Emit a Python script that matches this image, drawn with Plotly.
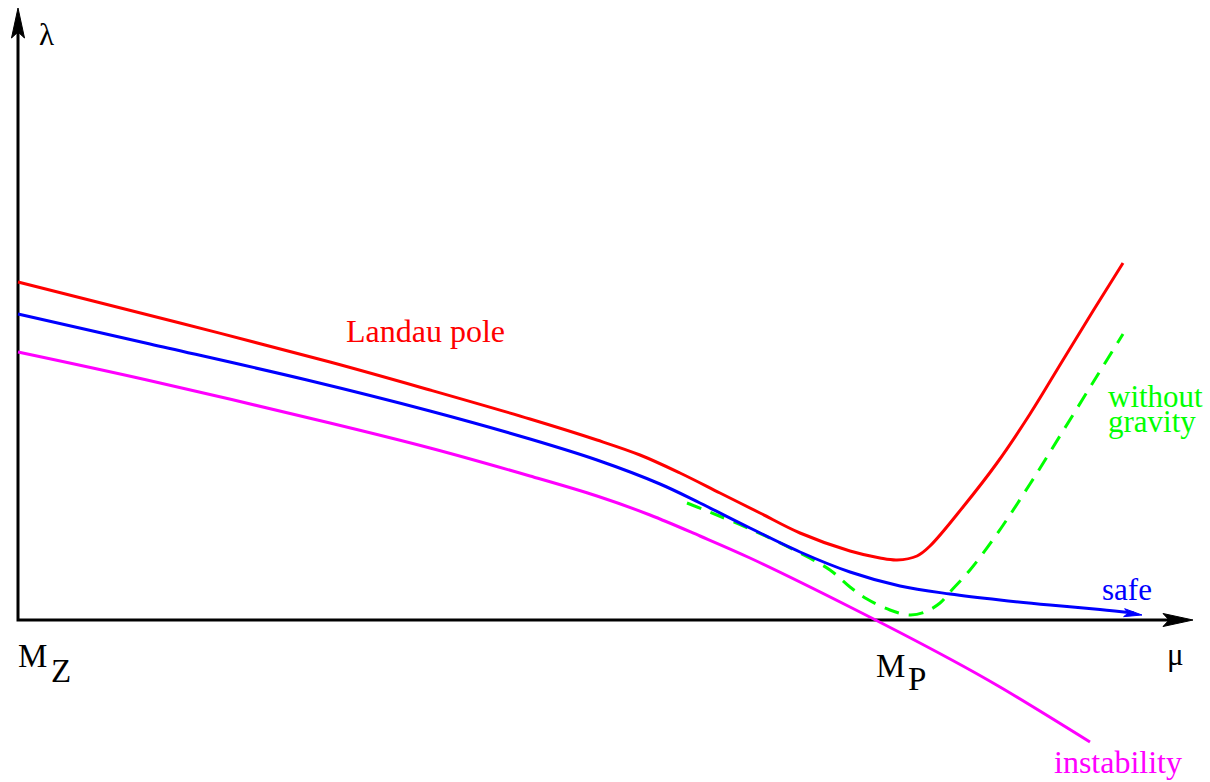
import numpy as np
import plotly.graph_objects as go

# ---- data (x = energy scale mu, y = coupling lambda; arbitrary units, origin at axes corner) ----
red_x = [0, 1.62, 3.12, 4.12, 5.12, 5.79, 6.22, 6.62, 7.02, 7.42, 7.82, 8.32, 8.62, 8.79, 8.99, 9.12, 9.45, 9.79, 10.12, 10.45, 10.75, 11.05]
red_y = [3.38, 2.97, 2.58, 2.30, 2.01, 1.80, 1.65, 1.47, 1.27, 1.07, 0.87, 0.69, 0.62, 0.60, 0.64, 0.74, 1.13, 1.57, 2.06, 2.60, 3.09, 3.57]

blue_x = [0, 1.32, 2.89, 4.12, 5.12, 5.79, 6.42, 6.82, 7.32, 7.82, 8.32, 8.82, 9.32, 9.82, 10.32, 10.82, 11.16]
blue_y = [3.06, 2.76, 2.40, 2.09, 1.81, 1.60, 1.36, 1.17, 0.92, 0.68, 0.48, 0.34, 0.26, 0.20, 0.15, 0.105, 0.07]

mag_x = [0, 1.29, 3.12, 4.12, 5.12, 5.79, 6.32, 6.82, 7.32, 8.32, 9.32, 9.82, 10.72]
mag_y = [2.68, 2.40, 1.97, 1.72, 1.44, 1.24, 1.05, 0.84, 0.62, 0.13, -0.39, -0.67, -1.22]

green_x = [6.69, 7.32, 7.82, 8.12, 8.32, 8.49, 8.72, 8.92, 9.07, 9.22, 9.32, 9.52, 9.79, 10.12, 10.45, 10.79, 11.05]
green_y = [1.17, 0.91, 0.67, 0.50, 0.33, 0.21, 0.10, 0.05, 0.08, 0.17, 0.28, 0.50, 0.86, 1.36, 1.89, 2.44, 2.86]

safe_tip = (11.24, 0.05)

# axis extents
x_axis_end = 11.75
y_axis_end = 6.12

# labels: text, x, y, colour, size
labels = ["Landau pole", "safe", "without", "gravity", "instability", "λ", "μ", "M", "Z", "M", "P"]
label_x = [4.07, 11.09, 11.37, 11.34, 11.00, 0.28, 11.57, 0.14, 0.43, 8.72, 8.99]
label_y = [2.89, 0.31, 2.24, 1.99, -1.42, 5.86, -0.34, -0.36, -0.51, -0.46, -0.59]
label_color = ["#ff0000", "#0000ff", "#00ff00", "#00ff00", "#ff00ff", "black", "black", "black", "black", "black", "black"]
label_size = [32, 31, 31, 31, 32, 31, 31, 33, 33, 33, 33]

FONT = "Liberation Serif"
LW = 3

fig = go.Figure()


def head(tip, direction, length, half_w, notch):
    t = np.array(tip, dtype=float)
    d = np.array(direction, dtype=float)
    d = d / np.hypot(*d)
    n = np.array([-d[1], d[0]])
    base = t - d * length
    p1 = base + n * half_w
    p2 = t - d * (length - notch)
    p3 = base - n * half_w
    pts = [t, p1, p2, p3, t]
    return [p[0] for p in pts], [p[1] for p in pts]


# axes
fig.add_trace(go.Scatter(x=[0, 0, x_axis_end - 0.2], y=[y_axis_end - 0.2, 0, 0], mode="lines",
                         line=dict(color="black", width=LW), hoverinfo="skip"))

# curves
spl = dict(width=LW, shape="spline", smoothing=1.0)
fig.add_trace(go.Scatter(x=red_x, y=red_y, mode="lines", line=dict(color="#ff0000", **spl)))
fig.add_trace(go.Scatter(x=mag_x, y=mag_y, mode="lines", line=dict(color="#ff00ff", **spl)))
fig.add_trace(go.Scatter(x=green_x, y=green_y, mode="lines", line=dict(color="#00ff00", dash="15px,10px", **spl)))
fig.add_trace(go.Scatter(x=blue_x, y=blue_y, mode="lines", line=dict(color="#0000ff", **spl)))

# arrow heads (in data units: 1 unit = 100 px both directions)
hx, hy = head((0, y_axis_end), (0, 1), 0.30, 0.065, 0.06)
fig.add_trace(go.Scatter(x=hx, y=hy, mode="lines", fill="toself", fillcolor="black", line=dict(color="black", width=1)))
hx, hy = head((x_axis_end, 0), (1, 0), 0.30, 0.065, 0.06)
fig.add_trace(go.Scatter(x=hx, y=hy, mode="lines", fill="toself", fillcolor="black", line=dict(color="black", width=1)))
hx, hy = head(safe_tip, (safe_tip[0] - blue_x[-2], safe_tip[1] - blue_y[-2]), 0.18, 0.04, 0.04)
fig.add_trace(go.Scatter(x=hx, y=hy, mode="lines", fill="toself", fillcolor="#0000ff", line=dict(color="#0000ff", width=1)))

for t, x, y, c, s in zip(labels, label_x, label_y, label_color, label_size):
    fig.add_annotation(x=x, y=y, xref="x", yref="y", text=t, showarrow=False,
                       xanchor="center", yanchor="middle",
                       font=dict(family=FONT, size=s, color=c))

fig.update_layout(
    width=1210, height=782, autosize=False,
    margin=dict(l=0, r=0, t=0, b=0),
    paper_bgcolor="white", plot_bgcolor="white",
    showlegend=False,
    hovermode=False,
    xaxis=dict(range=[-0.18, 11.92], visible=False, fixedrange=True),
    yaxis=dict(range=[-1.62, 6.20], visible=False, fixedrange=True),
)

fig.write_html("out.html", config={"displayModeBar": False, "staticPlot": True},
               post_script="document.body.style.margin='0';document.body.style.overflow='hidden';")
